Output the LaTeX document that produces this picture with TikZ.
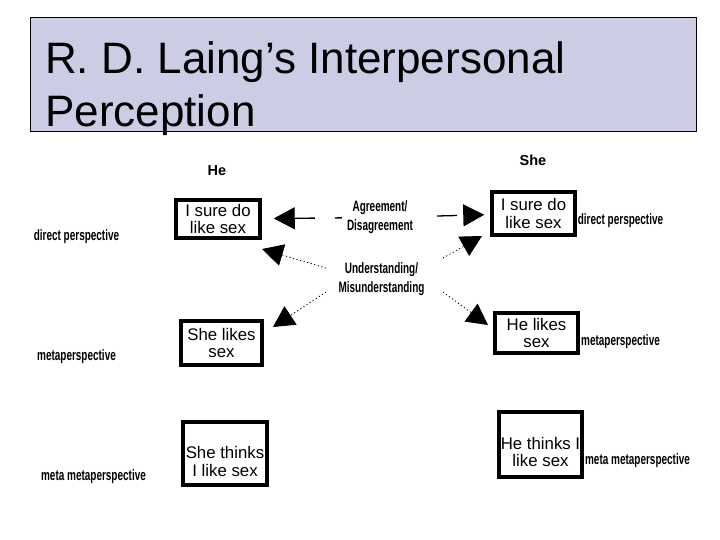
\documentclass[tikz,border=0pt]{standalone}
\usepackage{fontspec}
\setmainfont{Liberation Sans}
\usepackage{graphicx}
\usetikzlibrary{arrows.meta}
\definecolor{titlefill}{RGB}{204,204,229}
\newcommand\cnd[1]{\scalebox{0.665}[1]{#1}}
\begin{document}
\begin{tikzpicture}[x=1pt,y=-1pt,
  box/.style={draw=black,line width=3.5pt,inner sep=1pt,align=center,
    font=\fontsize{16.8}{17.5}\selectfont},
  cond/.style={inner sep=0pt,align=center,font=\bfseries\fontsize{15}{19}\selectfont},
  who/.style={inner sep=0pt,font=\bfseries\fontsize{14.5}{16}\selectfont},
  titletext/.style={inner sep=0pt,anchor=base west,font=\fontsize{44}{50}\selectfont},
  agrline/.style={-{Triangle[length=21pt,width=22pt]},line width=1.3pt,
    dash pattern=on 20pt off 20pt},
  undline/.style={-{Triangle[length=21pt,width=22pt]},line width=0.8pt,
    dash pattern=on 1.2pt off 2.5pt}]
\useasboundingbox (0,0) rectangle (720,540);
\fill[white] (0,0) rectangle (720,540);
% title
\node[draw=black,line width=1pt,fill=titlefill,minimum width=666pt,minimum height=114pt,inner sep=0pt]
  (titlebox) at (363.5,75) {};
\node[titletext] (title1) at (45,74) {R. D. Laing’s Interpersonal};
\node[titletext] (title2) at (45,126.5) {Perception};
% heads
\node[who] (he) at (217,171) {He};
\node[who] (she) at (533,160) {She};
% boxes
\node[box,minimum width=84pt,minimum height=38pt] (he1) at (218,219) {I sure do\\like sex};
\node[box,minimum width=81pt,minimum height=44pt] (he2) at (221.5,343) {She likes\\sex};
\node[box,minimum width=84pt,minimum height=63pt] (he3) at (225,453.5) {\rule{0pt}{28pt}She thinks\\I like sex};
\node[box,minimum width=83pt,minimum height=43pt] (she1) at (533.5,213.5) {I sure do\\like sex};
\node[box,minimum width=83pt,minimum height=40pt] (she2) at (536.5,333) {He likes\\sex};
\node[box,minimum width=83pt,minimum height=65pt] (she3) at (540.5,444.5) {\rule{0pt}{27pt}He thinks I\\like sex};
% side labels
\node[cond] (ld) at (76.5,237) {\cnd{direct perspective}};
\node[cond] (lm) at (76.5,357) {\cnd{metaperspective}};
\node[cond] (lmm) at (93.5,477) {\cnd{meta metaperspective}};
\node[cond] (rd) at (620.5,221) {\cnd{direct perspective}};
\node[cond] (rm) at (620.5,342) {\cnd{metaperspective}};
\node[cond] (rmm) at (637.5,461) {\cnd{meta metaperspective}};
% centre labels
\node[cond] (agr) at (380,217.5) {\cnd{Agreement/}\\\cnd{Disagreement}};
\node[cond] (und) at (381.5,279.5) {\cnd{Understanding/}\\\cnd{Misunderstanding}};
% agreement arrows
\draw[agrline,dash phase=13pt,shorten <=5pt,shorten >=12pt] (agr) -- (he1);
\draw[agrline,dash phase=20pt,shorten <=4pt,shorten >=6pt] (agr) -- (she1);
% understanding arrows
\coordinate (s1) at (326,268);
\coordinate (s2) at (326,292);
\coordinate (s3) at (443,258);
\coordinate (s4) at (443,292);
\coordinate (t1) at (262,249);
\coordinate (t2) at (273,327);
\coordinate (t3) at (482,236);
\coordinate (t4) at (488,325);
\draw[undline] (s1) -- (t1);
\draw[undline] (s2) -- (t2);
\draw[undline] (s3) -- (t3);
\draw[undline] (s4) -- (t4);
\end{tikzpicture}
\end{document}
